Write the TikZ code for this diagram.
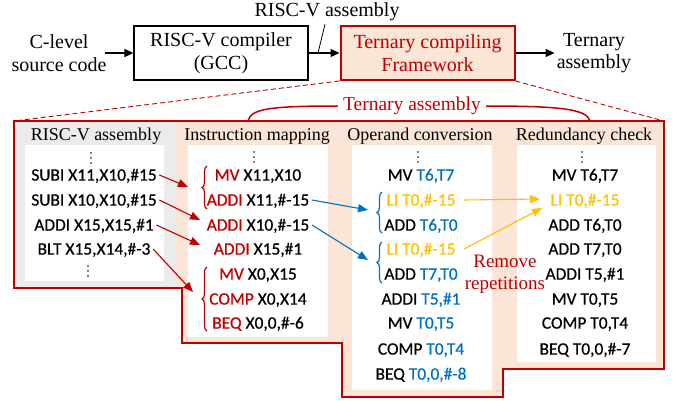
\documentclass[tikz,border=0pt]{standalone}
\usepackage{fontspec}
\setmainfont{Liberation Serif}
\newfontfamily\codefont[FakeBold=0.6]{Carlito}
\usetikzlibrary{arrows.meta,decorations.pathreplacing}
\definecolor{tred}{HTML}{C00000}
\definecolor{tpink}{HTML}{FBE5D6}
\definecolor{tgray}{HTML}{EBEBEB}
\definecolor{tblue}{HTML}{0070C0}
\definecolor{tyel}{HTML}{FFC000}
\newcommand{\rd}[1]{\textcolor{tred}{#1}}
\newcommand{\bl}[1]{\textcolor{tblue}{#1}}
\newcommand{\yl}[1]{\textcolor{tyel}{#1}}
\begin{document}
\begin{tikzpicture}[x=1pt,y=-1pt,
  toptext/.style={font=\fontsize{20}{22.5}\selectfont, align=center, inner sep=0pt},
  hdr/.style={font=\fontsize{18}{20}\selectfont, inner sep=0pt, text height=11.9pt, text depth=0pt},
  code/.style={font=\codefont\fontsize{17.4}{20}\selectfont, inner xsep=2.5pt, inner ysep=0pt, text height=11.2pt, text depth=0pt},
  arr/.style={line width=1.2pt, -{Triangle[length=9pt,width=8pt]}},
  carr/.style={line width=1.1pt, -{Triangle[length=10pt,width=8pt]}},
  brc/.style={line width=1.2pt, decorate, decoration={brace, amplitude=5pt}},
  dotc/.style={radius=0.9pt}
]
\useasboundingbox (0,0) rectangle (680,400);

% ---------- top row ----------
\node[toptext] (src) at (59,53) {C-level\\source code};
\node[toptext, draw, line width=1.2pt, minimum width=174pt, minimum height=54pt] (gcc) at (221,53) {RISC-V compiler\\(GCC)};
\node[toptext, draw=tred, fill=tpink, text=tred, line width=2pt, minimum width=174pt, minimum height=54pt] (fw) at (427.5,53) {Ternary compiling\\Framework};
\node[toptext] (tout) at (594,53) {Ternary\\assembly};
\node[toptext] (rvl) at (327,12) {RISC-V assembly};
\coordinate (ptr) at (318,53);

\draw[arr] ([xshift=-2pt]src.east) -- (gcc.west);
\draw[arr] (gcc.east) -- (fw.west);
\draw[arr] (fw.east) -- ([xshift=-2pt]tout.west);
\draw[line width=0.8pt] ([xshift=-2pt,yshift=-3pt]rvl.south) -- (ptr);

% ---------- big outline ----------
\coordinate (TL) at (14,121);
\coordinate (TR) at (664,121);
\fill[tpink] (TL) -- (TR) -- (664,369) -- (503,369) -- (503,397) -- (342,397) -- (342,343) -- (182,343) -- (182,288) -- (14,288) -- cycle;
\fill[tgray] (14,121) rectangle (175,288);
\fill[white] (25,145) rectangle (164,281);
\fill[white] (188,145) rectangle (328,337);
\fill[white] (352,145) rectangle (492,390);
\fill[white] (517,145) rectangle (656,362);
\draw[tred, line width=1.8pt, line join=miter] (TL) -- (TR) -- (664,369) -- (503,369) -- (503,397) -- (342,397) -- (342,343) -- (182,343) -- (182,288) -- (14,288) -- cycle;

\draw[tred, line width=0.9pt, dash pattern=on 5pt off 3pt] (fw.south west) -- (TL);
\draw[tred, line width=0.9pt, dash pattern=on 5pt off 3pt] (fw.south east) -- (TR);

% ---------- Ternary assembly brace ----------
\node[font=\fontsize{19.5}{22}\selectfont, text=tred, inner xsep=5pt, inner ysep=0pt, text height=9pt, text depth=0pt] (tlbl) at (412,106) {Ternary assembly};
\coordinate (bL) at (248,121);
\coordinate (bR) at (590,121);
\draw[tred, line width=1.5pt] (tlbl.west) .. controls (268,106) and (251,109) .. (bL);
\draw[tred, line width=1.5pt] (tlbl.east) .. controls (560,106) and (587,109) .. (bR);

% ---------- headers ----------
\node[hdr] (h1) at (96,134.5) {RISC-V assembly};
\node[hdr] (h2) at (257,134.5) {Instruction mapping};
\node[hdr] (h3) at (420,134.5) {Operand conversion};
\node[hdr] (h4) at (584,134.5) {Redundancy check};

% ---------- dots ----------
\foreach \x/\y in {91/158, 88/271, 254/157, 418/157, 582/157}{
  \fill (\x,\y-5) circle[dotc];
  \fill (\x,\y) circle[dotc];
  \fill (\x,\y+5) circle[dotc];
}

% ---------- column 1 ----------
\node[code] (s1) at (94,175) {SUBI X11,X10,\#15};
\node[code] (s2) at (94,200) {SUBI X10,X10,\#15};
\node[code] (s3) at (94,225) {ADDI X15,X15,\#1};
\node[code] (s4) at (94,249) {BLT X15,X14,\#-3};

% ---------- column 2 ----------
\node[code] (m1) at (258,175) {\rd{MV} X11,X10};
\node[code] (m2) at (258,200) {\rd{ADDI} X11,\#-15};
\node[code] (m3) at (258,225) {\rd{ADDI} X10,\#-15};
\node[code] (m4) at (258,249) {\rd{ADDI} X15,\#1};
\node[code] (m5) at (258,274) {\rd{MV} X0,X15};
\node[code] (m6) at (258,299) {\rd{COMP} X0,X14};
\node[code] (m7) at (258,323) {\rd{BEQ} X0,0,\#-6};
\draw[brc, tred] (207,209) -- (207,166);
\draw[brc, tred] (207,331) -- (207,267);

% ---------- column 3 ----------
\node[code] (o1) at (421,175) {MV \bl{T6,T7}};
\node[code] (o2) at (421,200) {\yl{LI T0,\#-15}};
\node[code] (o3) at (421,225) {ADD \bl{T6,T0}};
\node[code] (o4) at (421,249) {\yl{LI T0,\#-15}};
\node[code] (o5) at (421,274) {ADD \bl{T7,T0}};
\node[code] (o6) at (421,299) {ADDI \bl{T5,\#1}};
\node[code] (o7) at (421,323) {MV \bl{T0,T5}};
\node[code] (o8) at (421,349) {COMP \bl{T0,T4}};
\node[code] (o9) at (421,374) {BEQ \bl{T0,0,\#-8}};
\draw[brc, tblue] (382,233) -- (382,192);
\draw[brc, tblue] (382,283) -- (382,242);

% ---------- column 4 ----------
\node[code] (r1) at (585,175) {MV T6,T7};
\node[code] (r2) at (585,200) {\yl{LI T0,\#-15}};
\node[code] (r3) at (585,225) {ADD T6,T0};
\node[code] (r4) at (585,249) {ADD T7,T0};
\node[code] (r5) at (585,274) {ADDI T5,\#1};
\node[code] (r6) at (585,299) {MV T0,T5};
\node[code] (r7) at (585,323) {COMP T0,T4};
\node[code] (r8) at (585,349) {BEQ T0,0,\#-7};

\node[font=\fontsize{19}{22}\selectfont, text=tred, align=center, inner sep=0pt] (rem) at (505,274) {Remove\\repetitions};

% ---------- arrows ----------
\coordinate (ra1) at (188,187);
\coordinate (ra2) at (200,220);
\coordinate (ra3) at (200,245);
\coordinate (ra4) at (193,292);
\draw[carr, tred] (s1.east) -- (ra1);
\draw[carr, tred] (s2.east) -- (ra2);
\draw[carr, tred] (s3.east) -- (ra3);
\draw[carr, tred] (s4.east) -- (ra4);

\coordinate (ba1) at (368,210);
\coordinate (ba2) at (368,260);
\draw[carr, tblue] (m2.east) -- (ba1);
\draw[carr, tblue] (m3.east) -- (ba2);

\coordinate (ya1) at (540,199);
\coordinate (ya2) at (542,208);
\draw[carr, tyel] ([xshift=6pt]o2.east) -- (ya1);
\draw[carr, tyel] ([xshift=6pt]o4.east) -- (ya2);
\end{tikzpicture}
\end{document}
